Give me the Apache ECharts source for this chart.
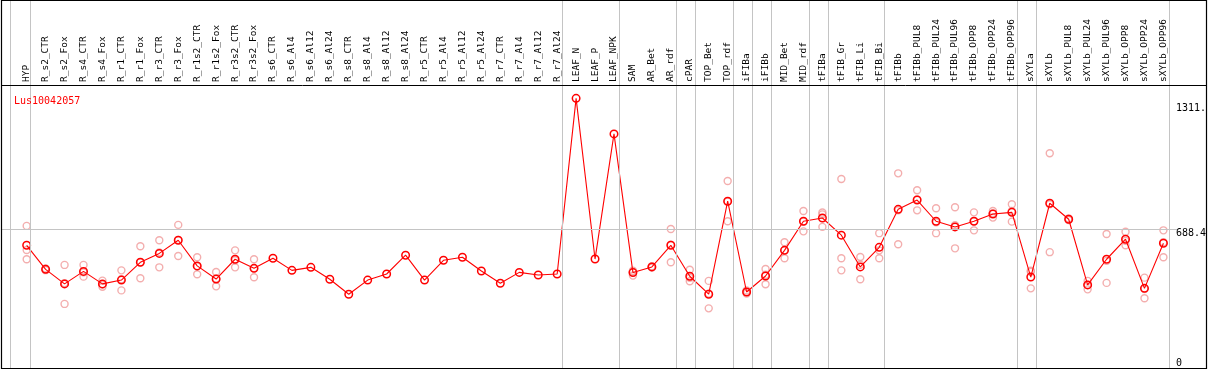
<!DOCTYPE html>
<html>
<head>
<meta charset="utf-8">
<script src="https://cdn.jsdelivr.net/npm/echarts@6/dist/echarts.min.js"></script>
<style>html,body{margin:0;padding:0;background:#fff}#c{width:1209px;height:370px}</style>
</head>
<body>
<div id="c"></div>
<script>
const categories = ['HYP','R_s2_CTR','R_s2_Fox','R_s4_CTR','R_s4_Fox','R_r1_CTR','R_r1_Fox','R_r3_CTR','R_r3_Fox','R_r1s2_CTR','R_r1s2_Fox','R_r3s2_CTR','R_r3s2_Fox','R_s6_CTR','R_s6_Al4','R_s6_Al12','R_s6_Al24','R_s8_CTR','R_s8_Al4','R_s8_Al12','R_s8_Al24','R_r5_CTR','R_r5_Al4','R_r5_Al12','R_r5_Al24','R_r7_CTR','R_r7_Al4','R_r7_Al12','R_r7_Al24','LEAF_N','LEAF_P','LEAF_NPK','SAM','AR_Bet','AR_rdf','cPAR','TOP_Bet','TOP_rdf','iFIBa','iFIBb','MID_Bet','MID_rdf','tFIBa','tFIB_Gr','tFIB_Li','tFIB_Bi','tFIBb','tFIBb_PUL8','tFIBb_PUL24','tFIBb_PUL96','tFIBb_OPP8','tFIBb_OPP24','tFIBb_OPP96','sXYLa','sXYLb','sXYLb_PUL8','sXYLb_PUL24','sXYLb_PUL96','sXYLb_OPP8','sXYLb_OPP24','sXYLb_OPP96'];

const meanValues = [607,488,416,478,416,435,523,567,632,505,440,538,493,543,483,498,439,365,435,465,558,435,533,548,480,419,473,460,465,1334,539,1158,472,500,607,454,365,825,376,455,582,726,742,657,500,597,785,831,726,698,726,762,770,450,815,736,411,538,637,394,617];

const rep1 = [703,492,510,510,432,483,602,632,708,548,475,582,538,null,null,null,null,null,null,null,null,null,null,null,null,null,null,null,null,null,null,null,477,503,688,486,431,925,384,490,622,777,769,935,549,667,963,879,790,795,770,777,810,476,1062,740,431,663,674,447,681];
const rep2 = [538,484,317,452,402,384,444,498,554,464,404,498,449,null,null,null,null,null,null,null,null,null,null,null,null,null,null,null,null,null,null,null,457,497,523,429,295,726,368,414,543,676,698,543,439,543,612,780,667,592,681,744,724,394,573,732,389,421,607,345,548];
const rep3 = [584,488,420,474,413,439,523,572,633,503,442,533,493,null,null,null,null,null,null,null,null,null,null,null,null,null,null,null,null,null,null,null,481,500,610,446,368,823,376,461,582,724,760,483,511,582,780,834,721,706,726,765,777,481,810,736,412,530,629,391,622];

const geneName = 'Lus10042057';
const yTicks = [0, 688.4, 1311];
const yTickLabels = ['0', '688.4', '1311.'];
const refLineValue = 688.4;
// groups end after these categories (vertical separators)
const groupEnds = ['HYP','R_r7_Al24','LEAF_NPK','AR_rdf','cPAR','TOP_rdf','iFIBa','iFIBb','MID_rdf','tFIBa','tFIB_Bi','tFIBb_OPP96','sXYLa','sXYLb_OPP96'];

const FONT = 'DejaVu Sans Mono';

const sepLines = [{xAxis: -0.84}].concat(groupEnds.map(n => ({xAxis: categories.indexOf(n) + 0.2})));

const repStyle = {
  type: 'scatter', xAxisIndex: 0, yAxisIndex: 0,
  symbol: 'circle', symbolSize: 7, z: 2, silent: true,
  itemStyle: {color: 'rgba(0,0,0,0)', borderColor: '#f09a9a', borderWidth: 1.4}
};

const chart = echarts.init(document.getElementById('c'), null, {renderer: 'canvas'});
chart.setOption({
  animation: false,
  backgroundColor: '#fff',
  title: {text: geneName, left: 9, top: 91, textStyle: {color: '#ff0000', fontFamily: FONT, fontSize: 10, fontWeight: 'normal'}},
  grid: [
    {left: 17.2, right: 32.8, top: 85, bottom: 2},
    {left: 1, right: 32, top: 0, bottom: 2}
  ],
  xAxis: [
    {type: 'category', gridIndex: 0, data: categories, position: 'top', boundaryGap: true,
     axisLine: {show: false}, axisTick: {show: false}, splitLine: {show: false},
     axisLabel: {rotate: 90, interval: 0, margin: 3, fontFamily: FONT, fontSize: 9.5, color: '#000'}},
    {type: 'value', gridIndex: 1, min: -1.3526, max: 60.5947, show: false}
  ],
  yAxis: [
    {type: 'value', gridIndex: 0, min: 0, max: 1400, position: 'right',
     axisLine: {show: false}, axisTick: {show: false}, splitLine: {show: false},
     axisLabel: {customValues: yTicks, formatter: v => yTickLabels[yTicks.indexOf(v)] ?? String(v),
       margin: 3, fontFamily: FONT, fontSize: 10, color: '#000', verticalAlign: 'top', verticalAlignMinLabel: 'bottom'}},
    {type: 'value', gridIndex: 1, min: 0, max: 1821, show: false}
  ],
  graphic: [
    {type: 'rect', silent: true, z: 100, shape: {x: 1.5, y: 0.5, width: 1205, height: 368}, style: {fill: null, stroke: '#000', lineWidth: 1.2}},
    {type: 'line', silent: true, z: 100, shape: {x1: 1, y1: 85.5, x2: 1207, y2: 85.5}, style: {stroke: '#000', lineWidth: 1}}
  ],
  series: [
    {type: 'line', xAxisIndex: 1, yAxisIndex: 1, data: [], silent: true, z: 1,
     markLine: {silent: true, symbol: 'none', label: {show: false},
       lineStyle: {color: '#c4c4c4', width: 1, type: 'solid'},
       data: sepLines.concat([{yAxis: refLineValue}])}},
    Object.assign({name: 'r1', data: rep1}, repStyle),
    Object.assign({name: 'r2', data: rep2}, repStyle),
    Object.assign({name: 'r3', data: rep3}, repStyle),
    {type: 'line', name: 'mean', xAxisIndex: 0, yAxisIndex: 0, data: meanValues, z: 3, silent: true,
     symbol: 'circle', symbolSize: 7.5, showAllSymbol: true,
     lineStyle: {color: '#ff0000', width: 1.1},
     itemStyle: {color: 'rgba(0,0,0,0)', borderColor: '#ff0000', borderWidth: 1.5}}
  ]
});
</script>
</body>
</html>
